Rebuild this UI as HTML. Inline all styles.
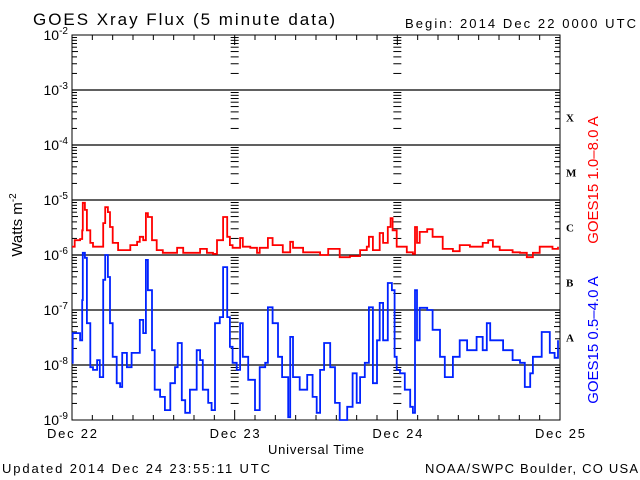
<!DOCTYPE html>
<html><head><meta charset="utf-8"><style>
body{margin:0;background:#fff;}
svg{display:block;font-family:"Liberation Sans",sans-serif;}
</style></head><body>
<svg id="chart" width="640" height="480" viewBox="0 0 640 480" xmlns="http://www.w3.org/2000/svg">
<rect width="640" height="480" fill="#fff"/>
<text x="33" y="25" font-size="17" textLength="302" lengthAdjust="spacing">GOES Xray Flux (5 minute data)</text>
<text x="405" y="28" font-size="13" textLength="231" lengthAdjust="spacing">Begin:  2014 Dec 22 0000 UTC</text>
<text transform="translate(22,225) rotate(-90)" text-anchor="middle" font-size="15">Watts m<tspan dy="-6" font-size="10">-2</tspan></text>
<text x="268" y="454" font-size="13" textLength="96" lengthAdjust="spacing">Universal Time</text>
<text x="2" y="473" font-size="13" textLength="268" lengthAdjust="spacing">Updated 2014 Dec 24 23:55:11 UTC</text>
<text x="425" y="473" font-size="13" textLength="213" lengthAdjust="spacing">NOAA/SWPC Boulder, CO USA</text>
<text transform="translate(598,180) rotate(-90)" text-anchor="middle" font-size="15" fill="#ff0000">GOES15 1.0–8.0 A</text>
<text transform="translate(598,340) rotate(-90)" text-anchor="middle" font-size="15" fill="#0000ff">GOES15 0.5–4.0 A</text>
<g id="axes"></g>
<g id="series"></g>
</svg>
<script>
const dayLabels=["Dec 22","Dec 23","Dec 24","Dec 25"];
const decadeExps=[-2,-3,-4,-5,-6,-7,-8,-9];
const classLetters=["X","M","C","B","A"];
const classExps=[-3.5,-4.5,-5.5,-6.5,-7.5];
const redHours=[0,0.4,1.2,1.5,1.6,1.9,2.2,2.7,3.1,4.1,4.6,4.9,5.3,5.6,6.0,6.8,8.6,9.6,10.0,10.5,10.9,11.2,11.8,12.5,13.4,15.5,16.4,18.9,19.9,20.8,21.4,22.3,22.9,23.3,23.7,24.3,24.8,25.2,26.3,27.3,27.7,28.9,29.6,31.1,32.2,32.6,34.1,36.6,37.8,39.5,41.0,42.5,43.5,43.8,44.4,45.4,45.9,46.6,47.0,47.3,47.9,49.4,50.3,50.6,50.9,51.3,52.4,53.2,54.7,56.2,57.2,58.7,60.6,61.4,62.1,63.1,65.0,66.1,67.1,68.0,69.0,70.9,71.7];
const redLogFlux=[-5.85,-5.73,-5.71,-5.55,-5.05,-5.18,-5.55,-5.78,-5.85,-5.85,-5.42,-5.13,-5.22,-5.49,-5.78,-5.91,-5.82,-5.76,-5.67,-5.73,-5.24,-5.31,-5.73,-5.91,-5.96,-5.87,-5.96,-5.89,-5.96,-5.98,-5.73,-5.31,-5.67,-5.82,-5.87,-5.87,-5.69,-5.85,-5.87,-5.96,-5.87,-5.69,-5.82,-5.95,-5.76,-5.87,-5.95,-6.0,-5.89,-6.04,-6.02,-5.91,-5.85,-5.67,-5.91,-5.60,-5.78,-5.49,-5.33,-5.55,-5.85,-5.95,-5.98,-5.49,-5.78,-5.58,-5.53,-5.67,-5.89,-5.93,-5.82,-5.85,-5.78,-5.73,-5.85,-5.91,-5.95,-5.96,-6.04,-5.96,-5.85,-5.89,-5.85];
const blueHours=[0,0.1,1.2,1.5,1.6,1.9,2.2,2.7,3.1,3.7,4.1,4.6,4.9,5.3,5.6,6.0,6.6,7.1,7.4,8.1,8.8,9.6,10.0,10.5,10.9,11.2,11.8,12.2,13.0,13.7,14.5,15.2,15.6,16.2,16.7,17.4,18.4,18.9,19.3,20.1,20.6,21.1,21.8,22.3,22.9,23.3,23.7,24.3,24.8,25.2,26.0,27.0,27.7,28.5,28.9,29.6,30.4,31.0,31.9,32.2,32.6,33.6,34.7,35.5,36.1,36.6,37.2,38.1,38.8,39.5,40.6,41.4,42.0,42.5,43.2,43.8,44.4,45.0,45.4,45.9,46.6,47.2,47.6,47.9,48.4,49.1,49.9,50.3,50.6,50.9,51.3,52.4,53.2,54.3,55.0,56.2,57.2,58.3,59.7,60.6,61.2,61.7,62.7,63.6,65.0,66.1,66.8,67.6,68.0,69.3,70.5,71.2,71.7];
const blueLogFlux=[-7.96,-7.42,-7.55,-6.82,-5.96,-6.05,-7.24,-8.04,-8.09,-7.91,-8.22,-6.45,-6.0,-6.40,-7.24,-7.85,-8.33,-8.40,-7.78,-8.04,-7.78,-7.78,-7.18,-7.42,-6.09,-6.64,-7.73,-8.45,-8.58,-8.82,-8.33,-8.04,-7.60,-8.64,-8.87,-8.45,-7.73,-7.91,-8.45,-8.69,-8.82,-7.24,-7.13,-6.22,-7.13,-7.67,-7.96,-8.09,-7.24,-7.85,-8.27,-8.82,-8.04,-7.96,-6.95,-7.24,-7.85,-8.22,-8.95,-7.49,-8.22,-8.45,-8.18,-8.58,-8.87,-8.09,-7.60,-8.04,-8.69,-9.0,-8.76,-8.15,-8.69,-8.22,-7.96,-6.95,-8.33,-7.55,-6.87,-7.55,-6.51,-6.64,-7.85,-8.09,-8.15,-8.45,-8.76,-8.87,-6.64,-7.55,-6.96,-7.0,-7.36,-7.85,-8.22,-7.85,-7.55,-7.73,-7.49,-7.73,-7.24,-7.55,-7.55,-7.73,-7.91,-7.96,-8.40,-8.15,-7.85,-7.40,-7.78,-7.87,-7.55];

const NS="http://www.w3.org/2000/svg";
const X0=72,X1=560,Y0=35,Y1=420;
const xScale=h=>X0+h*(X1-X0)/72;
const yScale=l=>Y0+(-2-l)*(Y1-Y0)/7;
const axes=document.getElementById('axes');
const series=document.getElementById('series');
function mk(tag,attrs,parent){const e=document.createElementNS(NS,tag);for(const k in attrs)e.setAttribute(k,attrs[k]);parent.appendChild(e);return e;}
function line(x1,y1,x2,y2,p,w){return mk('line',{x1:x1,y1:y1,x2:x2,y2:y2,stroke:'#000','stroke-width':w||1},p);}

const frame=mk('rect',{x:X0,y:Y0,width:X1-X0,height:Y1-Y0,fill:'none',stroke:'#000','stroke-width':1},axes);



decadeExps.forEach(e=>{
  const y=yScale(e);
  if(e<-2&&e>-9){const g=line(X0,y,X1,y,axes,1.3);
    
    }
  const t=mk('text',{x:X0-4,y:y+5,'text-anchor':'end','font-size':14},axes);
  
  
  t.textContent='10';
  const s=mk('tspan',{dy:-6,'font-size':10},t); s.textContent=String(e);
  if(e>-9){
    for(let m=2;m<=9;m++){
      const yy=yScale(e-1+Math.log10(m));
      const len=m===5?6:5;
      line(X0,yy,X0+len,yy,axes);
      line(X1-len,yy,X1,yy,axes);
      [1,2].forEach(d=>{const xd=xScale(d*24);line(xd-4,yy,xd+4,yy,axes);});
    }
  }
});
dayLabels.forEach((lab,i)=>{
  const x=xScale(i*24);
  const t=mk('text',{x:x-25,y:438,'font-size':13,textLength:50,lengthAdjust:'spacing'},axes);
  
  
  t.textContent=lab;
  if(i>0&&i<3){line(x,Y0,x,Y0+10,axes);line(x,Y1-10,x,Y1,axes);}
});
for(let h=3;h<72;h+=3){if(h%24===0)continue;const x=xScale(h);line(x,Y0,x,Y0+5,axes);line(x,Y1-5,x,Y1,axes);}
classLetters.forEach((c,i)=>{
  const t=mk('text',{x:566,y:yScale(classExps[i])+4,'font-size':11,'font-weight':'bold','font-family':'Liberation Serif, serif'},axes);
  
  
  t.textContent=c;
});
function draw(hours,vals,color,name){
  let pts=[];
  hours.forEach((h,i)=>{
    const x=xScale(h).toFixed(1), y=yScale(vals[i]).toFixed(1);
    if(i>0) pts.push(x+','+yScale(vals[i-1]).toFixed(1));
    pts.push(x+','+y);
  });
  const p=mk('polyline',{points:pts.join(' '),fill:'none',stroke:color,'stroke-width':1.8,'stroke-linejoin':'miter'},series);
  
  
}
draw(redHours,redLogFlux,'#ff0000','series-long-channel');
draw(blueHours,blueLogFlux,'#0022ff','series-short-channel');
</script>
</body></html>
